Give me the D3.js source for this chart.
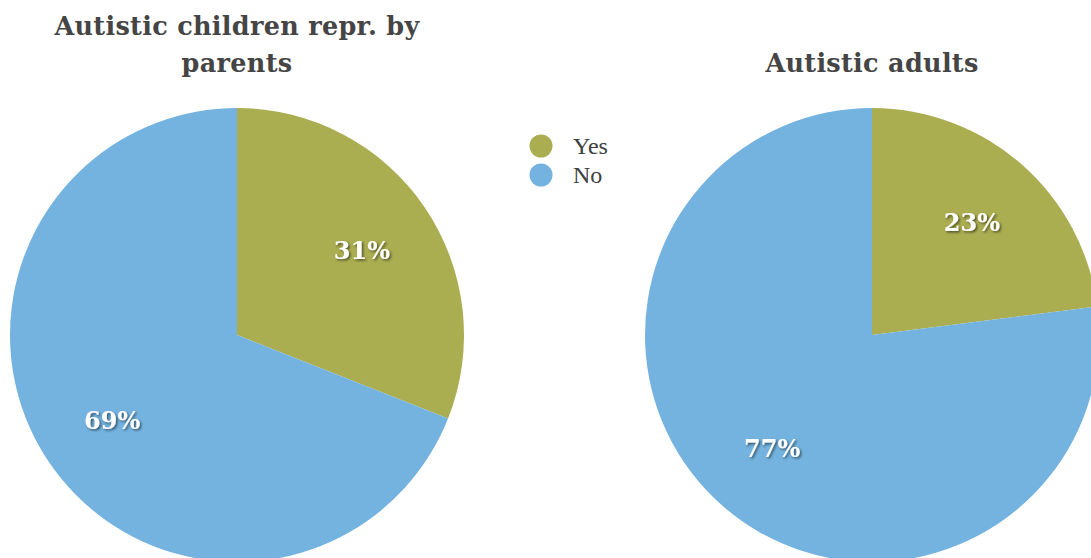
<!DOCTYPE html>
<html>
<head>
<meta charset="utf-8">
<script src="https://cdn.jsdelivr.net/npm/d3@7"></script>
<style>
  html, body { margin: 0; padding: 0; background: #fff; overflow: hidden; }
  svg { display: block; }
</style>
</head>
<body>
<svg id="chart" width="1091" height="558"></svg>
<script>
// Response categories and their shares for each group (percent)
const categories = ["Yes", "No"];
const childrenValues = [31, 69];
const adultValues = [23, 77];
const titles = [["Autistic children repr. by", "parents"], ["Autistic adults"]];
const colors = ["#abad51", "#74b3e0"];

const svg = d3.select("#chart");
const serif = "'Liberation Serif', 'DejaVu Serif', serif";
const boldSerif = "'DejaVu Serif', 'Liberation Serif', serif";

const defs = svg.append("defs");
const shadow = defs.append("filter").attr("id", "lblShadow")
  .attr("x", "-20%").attr("y", "-20%").attr("width", "140%").attr("height", "140%");
shadow.append("feDropShadow")
  .attr("dx", 1.5).attr("dy", 1.5).attr("stdDeviation", 1.2)
  .attr("flood-color", "#000").attr("flood-opacity", 0.55);

const color = d3.scaleOrdinal().domain(categories).range(colors);
const radius = 227;
const pie = d3.pie().sort(null).value(d => d.value);
const arc = d3.arc().innerRadius(0).outerRadius(radius);
const labelArc = d3.arc().innerRadius(radius * 0.665).outerRadius(radius * 0.665);

const panels = [
  { cx: 237, cy: 335, values: childrenValues, title: titles[0] },
  { cx: 872, cy: 335, values: adultValues, title: titles[1] }
];

panels.forEach(p => {
  const data = categories.map((c, i) => ({ cat: c, value: p.values[i] }));
  const g = svg.append("g").attr("transform", `translate(${p.cx},${p.cy})`);
  const arcs = pie(data);

  g.selectAll("path").data(arcs).join("path")
    .attr("d", arc)
    .attr("fill", d => color(d.data.cat));

  g.selectAll("text.lbl").data(arcs).join("text")
    .attr("class", "lbl")
    .attr("transform", d => `translate(${labelArc.centroid(d)})`)
    .attr("text-anchor", "middle")
    .attr("dy", "0.37em")
    .attr("fill", "#fff")
    .attr("font-family", boldSerif)
    .attr("font-weight", "bold")
    .attr("font-size", 24)
    .attr("filter", "url(#lblShadow)")
    .text(d => d.data.value + "%");

  // Title, one or two lines, ending just above the pie
  const lineH = 37;
  const lastBaseline = 72;
  const t = svg.append("text")
    .attr("text-anchor", "middle")
    .attr("fill", "#454545")
    .attr("font-family", boldSerif)
    .attr("font-weight", "bold")
    .attr("font-size", 25.5)
    .attr("letter-spacing", 0.3);
  p.title.forEach((line, i) => {
    t.append("tspan")
      .attr("x", p.cx)
      .attr("y", lastBaseline - (p.title.length - 1 - i) * lineH)
      .text(line);
  });
});

// Legend
const legend = svg.append("g").attr("transform", "translate(541,146)");
const item = legend.selectAll("g").data(categories).join("g")
  .attr("transform", (d, i) => `translate(0,${i * 29})`);
item.append("circle").attr("r", 11.5).attr("fill", d => color(d));
item.append("text")
  .attr("x", 32).attr("dy", "0.35em")
  .attr("fill", "#404040")
  .attr("font-family", serif)
  .attr("font-size", 24)
  .text(d => d);
</script>
</body>
</html>
